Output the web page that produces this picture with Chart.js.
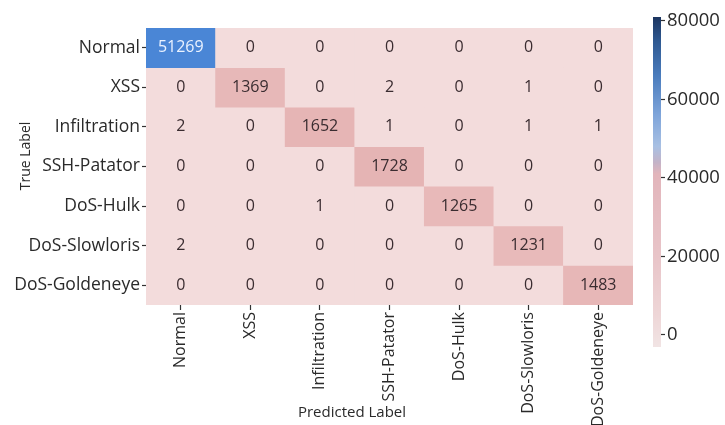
<!DOCTYPE html>
<html>
<head>
<meta charset="utf-8">
<script src="https://cdn.jsdelivr.net/npm/chart.js@4.4.0/dist/chart.umd.min.js"></script>
<style>
body{margin:0;background:#fff}
#wrap{position:relative;width:725px;height:425px}
#heat{position:absolute;left:0;top:0}
#cbar{position:absolute;left:645px;top:0}
</style>
</head>
<body>
<div id="wrap">
<canvas id="heat" width="725" height="425"></canvas>
<canvas id="cbar" width="80" height="425"></canvas>
</div>
<script>
const trueLabels = ["Normal","XSS","Infiltration","SSH-Patator","DoS-Hulk","DoS-Slowloris","DoS-Goldeneye"]
const predLabels = ["Normal","XSS","Infiltration","SSH-Patator","DoS-Hulk","DoS-Slowloris","DoS-Goldeneye"]

// one row per true class
const normalRow     = [51269, 0, 0, 0, 0, 0, 0]
const xssRow        = [0, 1369, 0, 2, 0, 1, 0]
const infilRow      = [2, 0, 1652, 1, 0, 1, 1]
const sshRow        = [0, 0, 0, 1728, 0, 0, 0]
const hulkRow       = [0, 0, 1, 0, 1265, 0, 0]
const slowlorisRow  = [2, 0, 0, 0, 0, 1231, 0]
const goldeneyeRow  = [0, 0, 0, 0, 0, 0, 1483]
const matrix = [normalRow, xssRow, infilRow, sshRow, hulkRow, slowlorisRow, goldeneyeRow]

const cbTicks = [0, 20000, 40000, 60000, 80000]
const cbMin = -3100
const cbMax = 81000

const FONT = '"Open Sans", "DejaVu Sans", sans-serif'
const txt = '#2a2a2a'

const cellStops = [[0,'#f3dcdc'],[600,'#efcfcf'],[1200,'#e8baba'],[2000,'#e4b1b1'],[40000,'#a4bde0'],[51269,'#4a86d6'],[80000,'#1c3560']]
const barStops = [[-3100,'#f1e4e4'],[5000,'#eed6d7'],[20000,'#e8c4c8'],[41000,'#e2b5bb'],[44000,'#c3b3c8'],[48000,'#a8c0e3'],[56000,'#7fa5da'],[66000,'#4a7cbd'],[75000,'#2e5890'],[81000,'#1c3560']]

const hex = h => [1,3,5].map(i => parseInt(h.slice(i,i+2),16))
const cellColor = function(v){
    for(let i=1;i<cellStops.length;i++){
        const [v0,c0] = cellStops[i-1], [v1,c1] = cellStops[i]
        if(v <= v1){
            const t = (v-v0)/(v1-v0), a = hex(c0), b = hex(c1)
            return 'rgb(' + a.map((x,k)=>Math.round(x+(b[k]-x)*t)).join(',') + ')'
        }
    }
    return cellStops[cellStops.length-1][1]
}

const datasets = matrix.map((row, r) => ({
    label: trueLabels[r],
    data: row.map(() => [r, r+1]),
    backgroundColor: row.map(cellColor),
    borderWidth: 0,
    barPercentage: 1,
    categoryPercentage: 1,
    grouped: false
}))

const cellText = {
    id: 'cellText',
    afterDatasetsDraw(chart){
        const ctx = chart.ctx
        const a = chart.chartArea
        ctx.save()
        ctx.font = '16px ' + FONT
        ctx.textAlign = 'center'
        ctx.textBaseline = 'middle'
        matrix.forEach((row, r) => {
            chart.getDatasetMeta(r).data.forEach((bar, c) => {
                const p = bar.getCenterPoint()
                ctx.fillStyle = row[c] > 20000 ? '#eaf2ff' : '#3a2c30'
                ctx.fillText(row[c], p.x, p.y)
            })
        })
        // axis titles
        ctx.fillStyle = txt
        ctx.font = '15px ' + FONT
        ctx.fillText('Predicted Label', a.left + 206, 413)
        ctx.font = '14px ' + FONT
        ctx.translate(26, a.top + 128)
        ctx.rotate(-Math.PI/2)
        ctx.fillText('True Label', 0, 0)
        ctx.restore()
    }
}

new Chart(document.getElementById('heat'), {
    type: 'bar',
    data: { labels: predLabels, datasets: datasets },
    options: {
        responsive: false,
        animation: false,
        events: [],
        layout: { padding: { top: 28, right: 92, left: 0, bottom: 0 } },
        plugins: { legend: { display: false }, tooltip: { enabled: false } },
        scales: {
            x: {
                grid: { offset: false, drawOnChartArea: false, drawTicks: true, tickLength: 5, tickColor: '#333', tickWidth: 1.2 },
                border: { display: false },
                ticks: { maxRotation: 90, minRotation: 90, padding: 2, color: txt, font: { family: FONT, size: 16 } },
                afterFit: s => { s.height = 120 }
            },
            y: {
                min: 0, max: 7, reverse: true,
                afterBuildTicks: s => { s.ticks = trueLabels.map((_, i) => ({ value: i + 0.5 })) },
                grid: { drawOnChartArea: false, tickLength: 4, tickColor: '#333', tickWidth: 1.2 },
                border: { display: false },
                ticks: { padding: 2, color: txt, font: { family: FONT, size: 17.5 }, callback: v => trueLabels[Math.floor(v)] },
                afterFit: s => { s.width = 146 }
            }
        }
    },
    plugins: [cellText]
})

new Chart(document.getElementById('cbar'), {
    type: 'bar',
    data: {
        labels: [''],
        datasets: [{
            data: [[cbMin, cbMax]],
            barPercentage: 1,
            categoryPercentage: 1,
            borderWidth: 0,
            backgroundColor: (c) => {
                const ch = c.chart
                if(!ch.chartArea) return '#ddd'
                const y = ch.scales.y
                const g = ch.ctx.createLinearGradient(0, y.getPixelForValue(cbMin), 0, y.getPixelForValue(cbMax))
                barStops.forEach(([v, col]) => g.addColorStop((v-cbMin)/(cbMax-cbMin), col))
                return g
            }
        }]
    },
    options: {
        responsive: false,
        animation: false,
        events: [],
        layout: { padding: { top: 17, bottom: 78, left: 8, right: 0 } },
        plugins: { legend: { display: false }, tooltip: { enabled: false } },
        scales: {
            x: { display: false },
            y: {
                position: 'right',
                min: cbMin, max: cbMax,
                afterBuildTicks: s => { s.ticks = cbTicks.map(v => ({ value: v })) },
                grid: { drawOnChartArea: false, tickLength: 4, tickColor: '#333', tickWidth: 1.2 },
                border: { display: false },
                ticks: { padding: 2, color: txt, font: { family: FONT, size: 18.5 }, callback: v => String(v) },
                afterFit: s => { s.width = 64 }
            }
        }
    }
})
</script>
</body>
</html>
